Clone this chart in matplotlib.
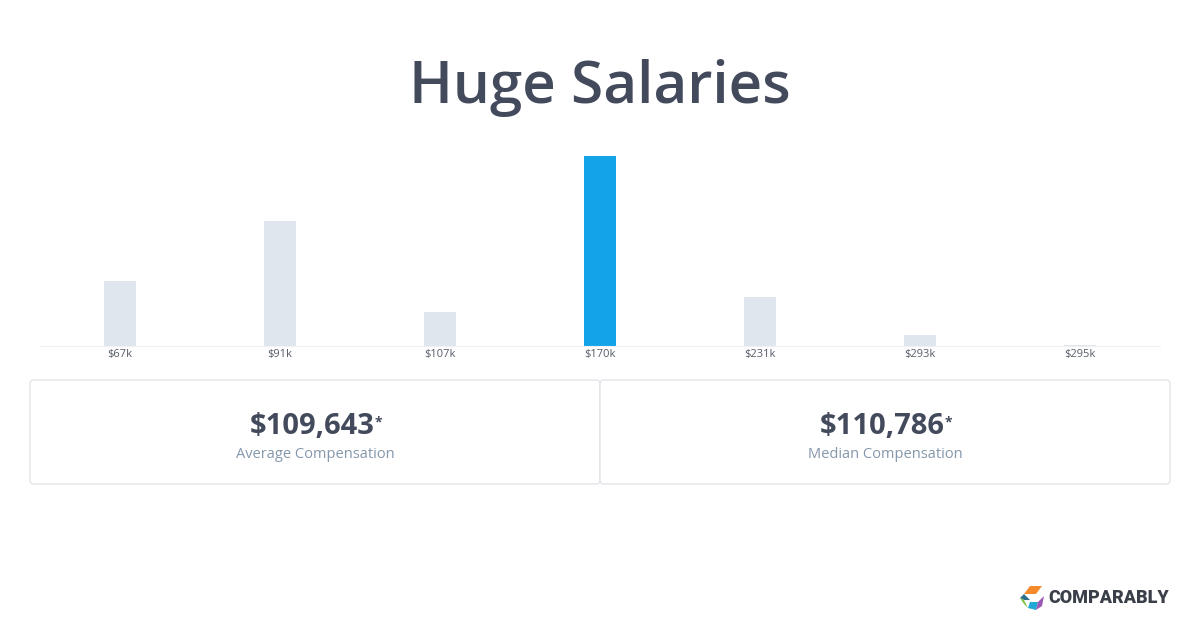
import matplotlib
matplotlib.use("Agg")
import matplotlib.pyplot as plt
from matplotlib.patches import FancyBboxPatch, Polygon

W, H = 1200, 630
categories = ["$67k", "$91k", "$107k", "$170k", "$231k", "$293k", "$295k"]
counts = [65, 125, 34, 190, 49, 11, 1]
highlight = "$170k"
stats = ["$109,643", "$110,786"]
stat_labels = ["Average Compensation", "Median Compensation"]

DARK = "#434a5c"
fig = plt.figure(figsize=(12, 6.3), dpi=100)
fig.patch.set_facecolor("white")

def fy(py):
    return 1 - py / H

# ── title ─────────────────────────────────────────────
fig.text(0.5, fy(88), "Huge Salaries", ha="center", va="center",
         fontsize=42, fontweight="semibold", family="Open Sans", color=DARK)

# ── bars ──────────────────────────────────────────────
ax = fig.add_axes([40 / W, fy(346), 1120 / W, 190 / H])
colors = ["#13a4e8" if c == highlight else "#e0e6ed" for c in categories]
ax.bar(range(len(categories)), counts, width=0.2, color=colors)
ax.set_xlim(-0.5, len(categories) - 0.5)
ax.set_ylim(0, max(counts))
ax.set_yticks([])
ax.set_xticks(range(len(categories)))
ax.set_xticklabels(categories, fontsize=8, color="#555b66", family="Open Sans")
ax.tick_params(axis="x", length=0, pad=2)
for s in ["top", "left", "right"]:
    ax.spines[s].set_visible(False)
ax.spines["bottom"].set_color("#eef0f3")
ax.patch.set_alpha(0)

# ── stat boxes ────────────────────────────────────────
overlay = fig.add_axes([0, 0, 1, 1])
overlay.set_xlim(0, W); overlay.set_ylim(H, 0); overlay.axis("off")
for i, (val, lab) in enumerate(zip(stats, stat_labels)):
    x0 = 30 + i * 570
    overlay.add_patch(FancyBboxPatch((x0, 380), 570, 104,
                      boxstyle="round,pad=0,rounding_size=4",
                      fc="white", ec="#e1e5ea", lw=1))
    cx = x0 + 285
    t = overlay.text(cx - 3, 426, val, ha="center", va="center", fontsize=21,
                     fontweight="bold", family="Open Sans", color=DARK)
    overlay.annotate("*", xy=(1, 1), xycoords=t, xytext=(0, -3),
                     textcoords="offset points", ha="left", va="top",
                     fontsize=10, fontweight="bold", family="Open Sans", color=DARK)
    overlay.text(cx, 455, lab, ha="center", va="center", fontsize=10.5,
                 family="Open Sans", color="#8597ab")

# ── logo ──────────────────────────────────────────────
lx, ly = 1032, 598
overlay.add_patch(Polygon([(lx - 8, ly - 4), (lx - 2, ly - 12), (lx + 10, ly - 12), (lx + 4, ly - 4)], fc="#f58a2b"))
overlay.add_patch(Polygon([(lx - 12, ly), (lx - 8, ly - 4), (lx - 2, ly + 2), (lx - 8, ly + 2)], fc="#2e6f8e"))
overlay.add_patch(Polygon([(lx - 12, ly), (lx - 8, ly + 2), (lx - 4, ly + 10), (lx - 8, ly + 6)], fc="#7cc242"))
overlay.add_patch(Polygon([(lx - 4, ly + 10), (lx - 2, ly + 4), (lx + 6, ly + 4), (lx + 4, ly + 12)], fc="#1fa9d6"))
overlay.add_patch(Polygon([(lx + 6, ly + 4), (lx + 12, ly - 2), (lx + 10, ly + 8), (lx + 4, ly + 12)], fc="#9b59b6"))
overlay.text(1048, 598, "COMPARABLY", ha="left", va="center", fontsize=13,
             fontweight="heavy", family="Roboto", color="#3a3f4a")

fig.savefig("out.png", dpi=100, facecolor="white")
